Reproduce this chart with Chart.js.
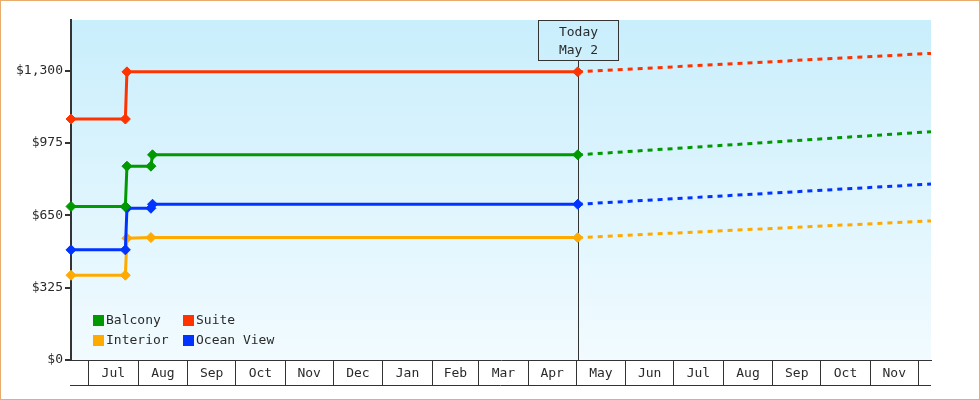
<!DOCTYPE html>
<html><head><meta charset="utf-8">
<script src="https://cdn.jsdelivr.net/npm/chart.js@4.4.1/dist/chart.umd.min.js"></script>
<style>html,body{margin:0;padding:0;background:#fff;}canvas{display:block;}</style>
</head><body>
<canvas id="c" width="980" height="400"></canvas>
<script>
// ---------- data ----------
const categories = ['Balcony', 'Suite', 'Interior', 'Ocean View'];
const actualDates = ['2023-06-20', '2023-07-24', '2023-07-25', '2023-08-09', '2023-08-10', '2024-05-02'];
const balconyActual   = [690, 690, 871, 871, 922, 922];
const suiteActual     = [1083, 1083, 1295, null, null, 1295];
const interiorActual  = [381, 381, 547, 550, null, 550];
const oceanViewActual = [495, 495, 682, 682, 700, 700];
const forecastDates = ['2024-05-02', '2024-12-09'];
const balconyForecast   = [922, 1026];
const suiteForecast     = [1295, 1378];
const interiorForecast  = [550, 625];
const oceanViewForecast = [700, 791];
const monthLabels = ['Jul','Aug','Sep','Oct','Nov','Dec','Jan','Feb','Mar','Apr','May','Jun','Jul','Aug','Sep','Oct','Nov'];
const monthStarts = ['2023-07-01','2023-08-01','2023-09-01','2023-10-01','2023-11-01','2023-12-01',
  '2024-01-01','2024-02-01','2024-03-01','2024-04-01','2024-05-01','2024-06-01','2024-07-01',
  '2024-08-01','2024-09-01','2024-10-01','2024-11-01','2024-12-01'];
const yTicks = [0, 325, 650, 975, 1300];
const axisStart = '2023-06-20';
const axisEnd = '2024-12-09';
const yMax = 1528;
const todayDate = '2024-05-02';
const todayLabel = ['Today', 'May 2'];

// ---------- styles ----------
const seriesColors = { 'Balcony': '#009900', 'Suite': '#ff3300', 'Interior': '#ffaa00', 'Ocean View': '#0033ff' };
const FONT = '"DejaVu Sans Mono", "Liberation Mono", monospace';
const TEXT = '#2a2a2a';
const AXIS = '#333';

function dayNum(s) {
  const [y, m, d] = s.split('-').map(Number);
  const [y0, m0, d0] = axisStart.split('-').map(Number);
  return Math.round((Date.UTC(y, m - 1, d) - Date.UTC(y0, m0 - 1, d0)) / 86400000);
}
const pts = (dates, vals) => dates.map((d, i) => ({ x: dayNum(d), y: vals[i] }));

const boundaryVals = monthStarts.map(dayNum);
const labelMap = new Map();
monthLabels.forEach((l, i) => labelMap.set((boundaryVals[i] + boundaryVals[i + 1]) / 2, l));
const boundarySet = new Set(boundaryVals);

const actualMap = { 'Balcony': balconyActual, 'Suite': suiteActual, 'Interior': interiorActual, 'Ocean View': oceanViewActual };
const forecastMap = { 'Balcony': balconyForecast, 'Suite': suiteForecast, 'Interior': interiorForecast, 'Ocean View': oceanViewForecast };
const drawOrder = ['Balcony', 'Ocean View', 'Interior', 'Suite'];

const datasets = [];
drawOrder.forEach(name => {
  datasets.push({
    label: name, data: pts(actualDates, actualMap[name]),
    borderColor: seriesColors[name], backgroundColor: seriesColors[name],
    borderWidth: 3, pointStyle: 'rectRot', pointRadius: 5, pointBorderWidth: 1,
    pointBackgroundColor: seriesColors[name], pointBorderColor: seriesColors[name],
    spanGaps: true, tension: 0, fill: false, clip: false
  });
});
drawOrder.forEach(name => {
  datasets.push({
    label: name + ' forecast', data: pts(forecastDates, forecastMap[name]),
    borderColor: seriesColors[name], borderWidth: 3, borderDash: [5, 5],
    pointRadius: 0, tension: 0, fill: false
  });
});

const bgPlugin = {
  id: 'bg',
  beforeDraw(chart) {
    const { ctx, chartArea: a } = chart;
    const g = ctx.createLinearGradient(0, a.top, 0, a.bottom);
    g.addColorStop(0, '#c9eefc');
    g.addColorStop(1, '#f2fbff');
    ctx.save(); ctx.fillStyle = g;
    ctx.fillRect(a.left, a.top, a.right - a.left, a.bottom - a.top);
    ctx.restore();
  }
};

const todayPlugin = {
  id: 'today',
  beforeDatasetsDraw(chart) {
    const { ctx, chartArea: a, scales } = chart;
    const x = Math.round(scales.x.getPixelForValue(dayNum(todayDate))) + 0.5;
    const boxW = 80, boxTop = a.top, boxBot = a.top + 40;
    ctx.save();
    ctx.strokeStyle = AXIS; ctx.lineWidth = 1;
    ctx.beginPath(); ctx.moveTo(x, boxBot); ctx.lineTo(x, a.bottom); ctx.stroke();
    ctx.strokeRect(Math.round(x - boxW / 2) - 0.5, boxTop + 0.5, boxW, boxBot - boxTop);
    ctx.fillStyle = TEXT; ctx.font = '13px ' + FONT;
    ctx.textAlign = 'center'; ctx.textBaseline = 'middle';
    ctx.fillText(todayLabel[0], x, boxTop + 13);
    ctx.fillText(todayLabel[1], x, boxTop + 31);
    ctx.restore();
  }
};

const legendPlugin = {
  id: 'inlegend',
  afterDatasetsDraw(chart) {
    const { ctx, chartArea: a } = chart;
    const layout = [['Balcony', 0, 0], ['Suite', 1, 0], ['Interior', 0, 1], ['Ocean View', 1, 1]];
    ctx.save();
    ctx.font = '13px ' + FONT; ctx.textBaseline = 'middle'; ctx.textAlign = 'left';
    layout.forEach(([name, col, row]) => {
      const bx = a.left + 22 + col * 90, cy = a.bottom - 40 + row * 20;
      ctx.fillStyle = seriesColors[name];
      ctx.fillRect(bx, cy - 5, 11, 11);
      ctx.fillStyle = TEXT;
      ctx.fillText(name, bx + 13, cy + 1);
    });
    ctx.restore();
  }
};

const framePlugin = {
  id: 'frame',
  afterDraw(chart) {
    const { ctx, chartArea: a } = chart;
    ctx.save();
    ctx.strokeStyle = AXIS; ctx.lineWidth = 1;
    ctx.beginPath(); ctx.moveTo(a.left - 1, a.bottom + 25.5); ctx.lineTo(a.right, a.bottom + 25.5); ctx.stroke();
    ctx.strokeStyle = '#e8ac6c';
    ctx.strokeRect(0.5, 0.5, chart.width - 1, chart.height - 1);
    ctx.restore();
  }
};

new Chart(document.getElementById('c'), {
  type: 'line',
  data: { datasets },
  plugins: [bgPlugin, todayPlugin, legendPlugin, framePlugin],
  options: {
    responsive: false, devicePixelRatio: 1, animation: false,
    layout: { padding: { top: 20, right: 49, left: 0, bottom: 0 } },
    plugins: { legend: { display: false }, tooltip: { enabled: false } },
    scales: {
      x: {
        type: 'linear', min: dayNum(axisStart), max: dayNum(axisEnd),
        afterBuildTicks(scale) {
          const t = boundaryVals.map(v => ({ value: v }));
          labelMap.forEach((l, v) => t.push({ value: v }));
          t.sort((p, q) => p.value - q.value);
          scale.ticks = t;
        },
        afterFit(scale) { scale.height = 40; },
        grid: {
          drawOnChartArea: false, drawTicks: true, tickLength: 25, lineWidth: 1,
          color: c => (c.tick && boundarySet.has(c.tick.value)) ? AXIS : 'rgba(0,0,0,0)'
        },
        border: { display: true, color: AXIS, width: 1 },
        ticks: {
          autoSkip: false, maxRotation: 0, minRotation: 0, padding: -19,
          color: TEXT, font: { family: FONT, size: 13 },
          callback: v => labelMap.has(v) ? labelMap.get(v) : ''
        }
      },
      y: {
        type: 'linear', min: 0, max: yMax,
        afterBuildTicks(scale) { scale.ticks = yTicks.map(v => ({ value: v })); },
        afterFit(scale) { scale.width = 71; },
        grid: { drawOnChartArea: false, drawTicks: true, tickLength: 6, color: AXIS, lineWidth: 2 },
        border: { display: true, color: AXIS, width: 2 },
        ticks: {
          padding: 2, color: TEXT, font: { family: FONT, size: 13 },
          callback: v => '$' + Number(v).toLocaleString('en-US')
        }
      }
    }
  }
});
</script>
</body></html>
